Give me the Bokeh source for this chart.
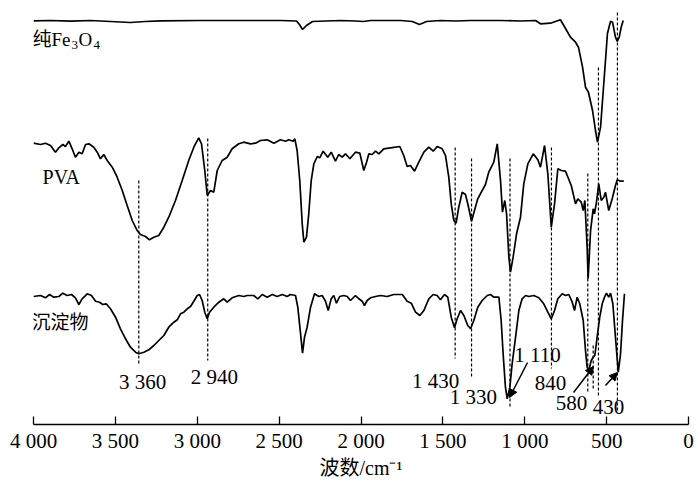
from bokeh.plotting import figure
from bokeh.models import Range1d, FixedTicker, Label, Arrow, NormalHead, ColumnDataSource
from bokeh.core.properties import value
from bokeh.embed import file_html
from bokeh.resources import INLINE

# ---- data (wavenumber cm^-1, transmittance in arbitrary stacked units) ----
fe3o4 = [(4000, 403.7), (3896, 404), (3774, 403.3), (3652, 404), (3530, 403), (3408, 402), (3316, 403),
         (3224, 403.7), (2980, 404), (2736, 404), (2492, 404), (2394, 403.5), (2376, 400), (2357, 395),
         (2333, 399), (2296, 403), (2217, 403.5), (2125, 404), (2034, 403.5), (1985, 403), (1942, 404),
         (1759, 404), (1686, 403), (1643, 400), (1600, 403), (1515, 404), (1423, 403.5), (1331, 404),
         (1148, 404), (1026, 403.5), (934, 404), (904, 400.7), (843, 401.3), (782, 404.7), (751, 396),
         (721, 387.3), (690, 382.3), (672, 377.3), (647, 357.3), (629, 337.3), (611, 332.3), (586, 314),
         (568, 294), (556, 282.3), (537, 297.3), (525, 324), (507, 364), (495, 391), (476, 403.3),
         (464, 402.3), (446, 387.3), (435, 383), (423, 387.3), (411, 397.3), (399, 404)]

pva = [(4000, 281.3), (3957, 280), (3927, 281.3), (3896, 279), (3866, 272.3), (3845, 276.7), (3821, 280),
       (3805, 278), (3784, 283.3), (3764, 275.7), (3744, 267.3), (3723, 272.3), (3703, 270.7), (3682, 280),
       (3662, 280.7), (3632, 277.3), (3611, 272.3), (3591, 265.7), (3571, 270), (3550, 264), (3519, 257.3),
       (3489, 247.3), (3458, 234), (3428, 219), (3397, 204), (3367, 194), (3347, 190), (3316, 188),
       (3292, 184.7), (3265, 187.3), (3235, 189), (3204, 197.3), (3174, 207.3), (3133, 224), (3092, 244),
       (3052, 264), (3021, 277.3), (2991, 286.7), (2974, 280.7), (2954, 254), (2939, 229), (2919, 234),
       (2899, 232.3), (2878, 254), (2848, 264), (2817, 267.3), (2787, 275.7), (2746, 280.7), (2716, 282.3),
       (2675, 280.7), (2644, 281.3), (2614, 284), (2573, 284.7), (2532, 281.3), (2492, 284.7), (2461, 283.3),
       (2441, 284.7), (2414, 283.3), (2404, 285.7), (2390, 274), (2374, 244), (2359, 200.7), (2349, 182.3),
       (2333, 187.3), (2319, 210.7), (2304, 244), (2288, 260.7), (2267, 268), (2252, 266.7), (2231, 273.3),
       (2203, 267.3), (2182, 272.3), (2156, 263.3), (2136, 270), (2115, 267.3), (2095, 270.7), (2068, 265.7),
       (2034, 272.3), (2007, 271.3), (1983, 254), (1966, 262.3), (1952, 270.7), (1932, 270), (1911, 273.3),
       (1891, 270.7), (1861, 275.7), (1820, 276.7), (1763, 278), (1739, 269), (1718, 258), (1698, 259),
       (1673, 253.3), (1647, 262.3), (1616, 272.3), (1586, 277.3), (1559, 273.3), (1535, 278), (1504, 275.7),
       (1484, 269), (1464, 247.3), (1449, 220.7), (1433, 204), (1419, 201.3), (1403, 217.3), (1382, 232.3),
       (1362, 230), (1348, 220.7), (1325, 203.3), (1307, 214), (1287, 225.7), (1260, 234), (1240, 240),
       (1220, 252.3), (1189, 262.3), (1168, 280.7), (1148, 244), (1136, 212.3), (1122, 224), (1111, 210.7),
       (1097, 167.3), (1087, 152.3), (1071, 167.3), (1050, 190.7), (1026, 207.3), (1006, 240.7), (981, 260.7),
       (948, 270.7), (920, 264.7), (904, 257.3), (879, 279), (859, 250.7), (838, 197.3), (818, 220.7),
       (798, 255.7), (777, 254), (751, 253.3), (716, 239), (690, 220.7), (676, 225.7), (655, 222.3),
       (643, 214), (633, 224), (619, 177.3), (613, 145.7), (598, 194), (582, 215.7), (574, 210.7),
       (562, 222.3), (548, 240.7), (533, 224), (517, 227.3), (507, 232.3), (487, 214), (466, 225.7),
       (446, 239), (435, 244.7), (415, 243.3), (395, 243.3)]

precipitate = [(4000, 128), (3957, 129), (3927, 126.7), (3902, 130), (3876, 127.3), (3845, 128), (3821, 131.3),
               (3794, 129), (3768, 130), (3744, 126.7), (3723, 120), (3703, 125.7), (3672, 130.7), (3646, 129),
               (3621, 123.3), (3597, 122.3), (3577, 120), (3556, 120.7), (3530, 115.7), (3499, 107.3),
               (3469, 95.7), (3438, 85.7), (3408, 77.3), (3377, 72.3), (3357, 70.7), (3326, 72.3), (3296, 74.7),
               (3265, 79), (3235, 84), (3204, 89), (3174, 97.3), (3143, 102.3), (3122, 104.7), (3102, 110.7),
               (3082, 112.3), (3061, 115.7), (3041, 118), (3021, 123.3), (3000, 129), (2986, 130), (2970, 124),
               (2954, 112.3), (2939, 105.7), (2925, 112.3), (2899, 117.3), (2868, 122.3), (2838, 125.7),
               (2817, 122.3), (2787, 126.7), (2746, 129), (2716, 128), (2695, 129), (2655, 129), (2630, 125.7),
               (2603, 130), (2573, 127.3), (2542, 130), (2512, 128), (2481, 130), (2451, 128), (2431, 130),
               (2400, 129), (2386, 117.3), (2369, 90.7), (2357, 71.3), (2345, 87.3), (2329, 97.3), (2308, 117.3),
               (2284, 130.7), (2258, 128), (2237, 129), (2217, 123.3), (2200, 114), (2182, 125.7), (2166, 129),
               (2150, 121.3), (2130, 128), (2105, 129), (2084, 128), (2064, 124), (2034, 129), (2013, 125.7),
               (1993, 123.3), (1979, 119), (1962, 124), (1942, 126.7), (1911, 128), (1881, 129), (1840, 128),
               (1800, 130), (1748, 130), (1718, 123.3), (1693, 121.3), (1667, 112.3), (1641, 109), (1616, 114),
               (1586, 125.7), (1559, 130), (1535, 129), (1515, 124.7), (1490, 130), (1470, 127.3), (1449, 107.3),
               (1429, 96.7), (1413, 105.7), (1392, 114), (1372, 109), (1348, 99), (1331, 95.7), (1311, 104),
               (1287, 117.3), (1260, 124), (1229, 129), (1209, 130), (1189, 127.3), (1158, 127.3), (1144, 104),
               (1132, 70.7), (1118, 37.3), (1107, 25.7), (1091, 37.3), (1077, 60.7), (1056, 87.3), (1036, 114),
               (1016, 125.7), (995, 129), (975, 128), (945, 129), (914, 126.7), (884, 120.7), (859, 112.3),
               (838, 105.7), (818, 114), (798, 125.7), (771, 130.7), (751, 129), (731, 130), (710, 122.3),
               (696, 114), (680, 127.3), (664, 120.7), (643, 104), (629, 74), (619, 57.3), (609, 54), (594, 64),
               (582, 67.3), (572, 69), (558, 87.3), (542, 107.3), (527, 120.7), (513, 127.3), (501, 131.3),
               (487, 127.3), (476, 131.3), (462, 120.7), (446, 87.3), (429, 52.3), (415, 70.7), (403, 104),
               (391, 130.7)]

series_names = ["纯Fe", "PVA", "沉淀物"]

# dashed marker lines: wavenumber, top, bottom
mark_wn = [3357, 2936, 1425, 1325, 1090, 837, 615, 582, 550, 434]
mark_top = [244, 286, 277, 266, 266, 277, 251, 79, 357, 412]
mark_bottom = [59, 64, 66, 46, 18, 56, 31, 34, 29, 14]

# peak annotations
peak_text = ["3 360", "2 940", "1 430", "1 330", "1 110", "840", "580", "430"]
peak_x = [3334, 2895, 1545, 1313, 922, 843, 715, 489]
peak_y = [43, 48, 44, 28, 70, 42, 22, 18]

# arrows: start -> end
arrow_x0 = [983, 702, 507]
arrow_y0 = [62, 32, 39]
arrow_x1 = [1093, 580, 434]
arrow_y1 = [27, 58, 52]

tick_values = [4000, 3500, 3000, 2500, 2000, 1500, 1000, 500, 0]
tick_labels = ["4 000", "3 500", "3 000", "2 500", "2 000", "1 500", "1 000", "500", "0"]

SERIF = "Liberation Serif, Noto Sans CJK SC"
FS = "19px"
NUM = "21px"

p = figure(frame_width=655, frame_height=416, output_backend="svg", toolbar_location=None,
           x_range=Range1d(4000, 0), y_range=Range1d(0, 416), y_axis_type=None,
           min_border_left=33, min_border_right=10, min_border_top=8, min_border_bottom=20)
p.grid.visible = False
p.outline_line_color = None
p.background_fill_color = "white"
p.border_fill_color = "white"

for data in (fe3o4, pva, precipitate):
    p.line([d[0] for d in data], [d[1] for d in data], line_color="black", line_width=1.7)

p.segment(x0=mark_wn, y0=mark_top, x1=mark_wn, y1=mark_bottom, line_color="black",
          line_width=1.2, line_dash="3 2")

src = ColumnDataSource(dict(x=peak_x, y=peak_y, t=peak_text))
p.text(x="x", y="y", text="t", source=src, text_align="center", text_baseline="middle",
       text_font=value(SERIF), text_font_size=NUM, text_color="black")

for x0, y0, x1, y1 in zip(arrow_x0, arrow_y0, arrow_x1, arrow_y1):
    p.add_layout(Arrow(x_start=x0, y_start=y0, x_end=x1, y_end=y1, line_width=1.5, line_color="black",
                       end=NormalHead(size=8, fill_color="black", line_color="black")))

# series names
def lab(text, x, y, xo=0, yo=0, size=FS):
    p.add_layout(Label(x=x, y=y, x_offset=xo, y_offset=yo, text=text, text_font=SERIF,
                       text_font_size=size, text_baseline="middle", text_align="left",
                       text_color="black"))

lab(series_names[0], 4000, 385, xo=-1)
lab("3", 4000, 385, xo=38, yo=-5, size="13px")
lab("O", 4000, 385, xo=45)
lab("4", 4000, 385, xo=60, yo=-5, size="13px")
lab(series_names[1], 3945, 248, size="20px")
lab(series_names[2], 4000, 102, xo=-2)

ax = p.xaxis[0]
ax.ticker = FixedTicker(ticks=tick_values)
ax.major_label_overrides = {v: t for v, t in zip(tick_values, tick_labels)}
ax.minor_tick_line_color = None
ax.major_tick_in = 8
ax.major_tick_out = 0
ax.major_tick_line_width = 1.3
ax.axis_line_width = 1.3
ax.major_label_standoff = 4
ax.major_label_text_font = SERIF
ax.major_label_text_font_size = NUM
ax.major_label_text_color = "black"
ax.axis_label = "波数/cm⁻¹"
ax.axis_label_text_font = SERIF
ax.axis_label_text_font_size = "20px"
ax.axis_label_text_font_style = "normal"
ax.axis_label_standoff = 1
ax.axis_label_text_color = "black"

open("out.html", "w").write(file_html(p, INLINE))
